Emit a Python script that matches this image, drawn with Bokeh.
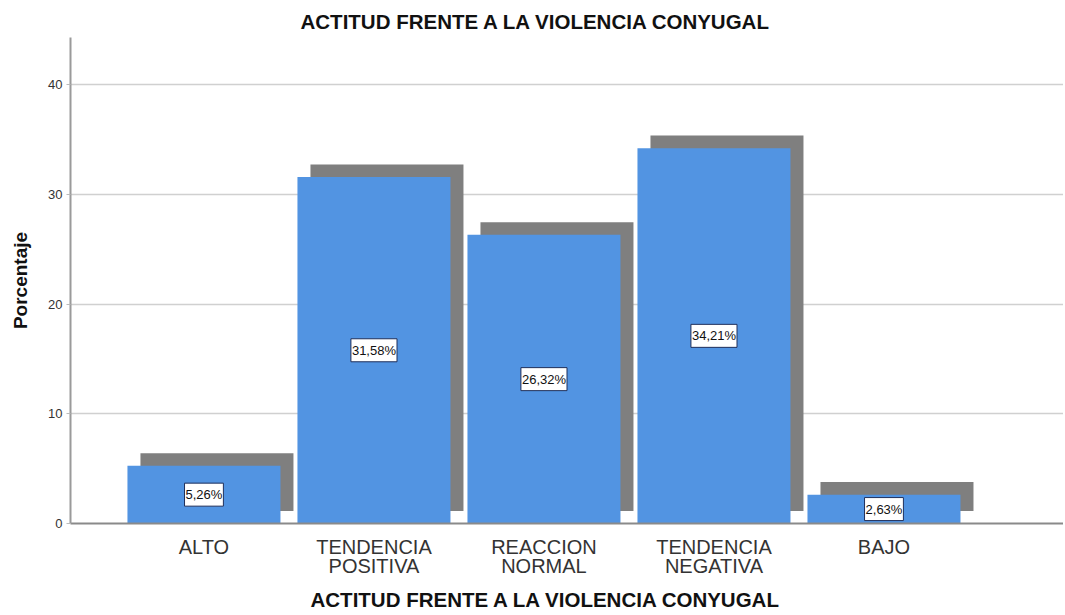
from bokeh.plotting import figure
from bokeh.models import ColumnDataSource, Range1d, FixedTicker, Label, Title
from bokeh.embed import file_html
from bokeh.resources import INLINE

categories = ["ALTO", "TENDENCIA\nPOSITIVA", "REACCION\nNORMAL", "TENDENCIA\nNEGATIVA", "BAJO"]
values = [5.26, 31.58, 26.32, 34.21, 2.63]
labels = ["5,26%", "31,58%", "26,32%", "34,21%", "2,63%"]
y_ticks = [0, 10, 20, 30, 40]
title_text = "ACTITUD FRENTE A LA VIOLENCIA CONYUGAL"
x_title = "ACTITUD FRENTE A LA VIOLENCIA CONYUGAL"
y_title = "Porcentaje"

SHADOW_DX = 0.0765
SHADOW_DY = 1.15
BAR_W = 0.9

idx = list(range(len(categories)))
src = ColumnDataSource(dict(
    x=idx,
    top=values,
    sx=[i + SHADOW_DX for i in idx],
    stop=[v + SHADOW_DY for v in values],
    sbot=[SHADOW_DY] * len(values),
))

FONT = "Liberation Sans"

p = figure(width=1063, height=615, output_backend="svg", toolbar_location=None,
           x_range=Range1d(-0.785, 5.056), y_range=Range1d(0, 44.3),
           min_border_left=70, min_border_right=0, min_border_top=37, min_border_bottom=92,
           title=title_text)
p.outline_line_color = None
p.background_fill_color = "white"

p.title.text_font = FONT
p.title.text_font_size = "20.5px"
p.title.text_font_style = "bold"
p.title.text_color = "#111111"
p.title.align = "left"
p.title.offset = 230

p.vbar(x="sx", top="stop", bottom="sbot", width=BAR_W, source=src,
       fill_color="#7f7f7f", line_color=None)
p.vbar(x="x", top="top", bottom=0, width=BAR_W, source=src,
       fill_color="#5294e2", line_color=None)

for i, (v, t) in enumerate(zip(values, labels)):
    p.add_layout(Label(x=i, y=v / 2, text=t, text_align="center", text_baseline="middle",
                       text_font=FONT, text_font_size="13px", text_color="#111111",
                       background_fill_color="white", border_line_color="#1f2f5a",
                       border_line_width=1, padding=(1, 4)))

p.xaxis.ticker = FixedTicker(ticks=idx)
p.xaxis.major_label_overrides = {i: c for i, c in enumerate(categories)}
p.xaxis.major_tick_line_color = None
p.xaxis.minor_tick_line_color = None
p.xaxis.axis_line_color = "#8a8a8a"
p.xaxis.axis_line_width = 2
p.xaxis.major_label_text_font = FONT
p.xaxis.major_label_text_font_size = "20px"
p.xaxis.major_label_text_color = "#333333"
p.xaxis.major_label_text_line_height = 0.9
p.xaxis.major_label_standoff = 6
p.xgrid.grid_line_color = None

# x-axis title (offset so it sits where the reference has it)
xt = Title(text=x_title, align="left", offset=240, text_font=FONT, text_font_size="20.5px",
           text_font_style="bold", text_color="#111111", standoff=10)
p.add_layout(xt, "below")

p.yaxis.ticker = FixedTicker(ticks=y_ticks)
p.yaxis.axis_line_color = "#9a9a9a"
p.yaxis.axis_line_width = 2
p.yaxis.major_tick_line_color = "#bbbbbb"
p.yaxis.major_tick_out = 4
p.yaxis.major_tick_in = 0
p.yaxis.minor_tick_line_color = None
p.yaxis.major_label_text_font = FONT
p.yaxis.major_label_text_font_size = "13px"
p.yaxis.major_label_text_color = "#333333"
p.yaxis.major_label_standoff = 4
p.yaxis.axis_label = y_title
p.yaxis.axis_label_text_font = FONT
p.yaxis.axis_label_text_font_size = "19px"
p.yaxis.axis_label_text_font_style = "bold"
p.yaxis.axis_label_text_color = "#111111"
p.yaxis.axis_label_standoff = 14
p.ygrid.grid_line_color = "#d0d0d0"
p.ygrid.grid_line_width = 1.5

open("out.html", "w").write(file_html(p, INLINE))
